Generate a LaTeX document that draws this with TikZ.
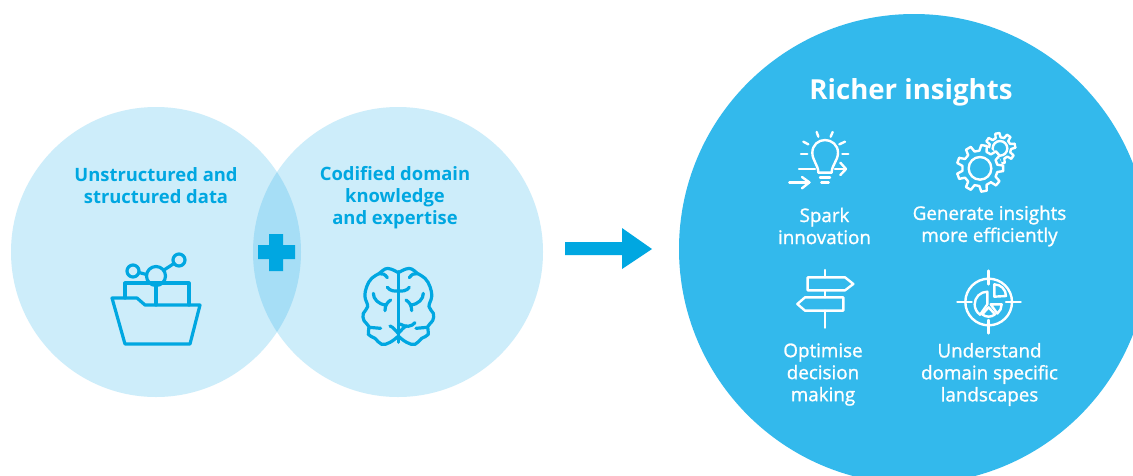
\documentclass[tikz,border=0pt]{standalone}
\usepackage{fontspec}
\setmainfont{Open Sans}
\newfontfamily\medfont[FakeBold=1.2]{Open Sans}
\definecolor{lightc}{HTML}{CDEDFA}
\definecolor{overlapc}{HTML}{A6DEF6}
\definecolor{bigc}{HTML}{33B9EC}
\definecolor{accent}{HTML}{00A7E1}
\tikzset{
  ltext/.style={text=accent,font=\fontsize{18.4}{22}\selectfont\bfseries,align=center,inner sep=0pt},
  rtext/.style={text=white,font=\fontsize{18.8}{22}\selectfont\medfont,align=center,inner sep=0pt},
  licon/.style={draw=accent,line width=3.2pt,line join=round,line cap=round},
  wicon/.style={draw=white,line width=2.4pt,line join=round,line cap=round},
  zoomed/.style={shift={#1},scale=1/3}
}
\newcommand{\gearshape}[6]{% cx cy ro ri n rot
  \foreach \i in {1,...,#5}{
    \pgfmathsetmacro{\aa}{#6+\i*360/#5}
    \pgfmathsetmacro{\dd}{360/#5}
    \draw[wicon] ({#1+#3*cos(\aa-.17*\dd)},{#2-#3*sin(\aa-.17*\dd)})
      -- ({#1+#3*cos(\aa+.17*\dd)},{#2-#3*sin(\aa+.17*\dd)})
      -- ({#1+#4*cos(\aa+.30*\dd)},{#2-#4*sin(\aa+.30*\dd)})
      -- ({#1+#4*cos(\aa+.70*\dd)},{#2-#4*sin(\aa+.70*\dd)})
      -- ({#1+#3*cos(\aa+.83*\dd)},{#2-#3*sin(\aa+.83*\dd)});
  }
}
\begin{document}
\begin{tikzpicture}[x=1pt,y=-1pt]
\useasboundingbox (0,0) rectangle (1133,475);
\fill[white] (0,0) rectangle (1133,475);
% Venn circles
\fill[lightc] (156,252) circle (145);
\fill[lightc] (398,252) circle (145);
\begin{scope}
  \clip (156,252) circle (145);
  \fill[overlapc] (398,252) circle (145);
\end{scope}
% plus
\fill[accent] (258,245) -- (269,245) -- (269,234) -- (283,234) -- (283,245) -- (295,245)
  -- (295,259) -- (283,259) -- (283,271) -- (269,271) -- (269,259) -- (258,259) -- cycle;
% arrow
\fill[accent] (565,242) -- (622,242) -- (622,228) -- (652,249) -- (622,269) -- (622,255) -- (565,255) -- cycle;
% big circle
\begin{scope}
  \clip (0,0) rectangle (1133,475);
  \fill[bigc] (914,249) circle (235);
\end{scope}
% left texts
\node[ltext] (unstructured) at (156,185.5) {Unstructured and\\structured data};
\node[ltext] (codified) at (395,198) {Codified domain\\knowledge\\and expertise};
% right texts
\node[text=white,font=\fontsize{27.6}{32}\selectfont\bfseries,inner sep=0pt] (richer) at (911,92.5) {Richer insights};
\node[rtext] (spark) at (824.5,226) {Spark\\innovation};
\node[rtext] (generate) at (989.5,226) {Generate insights\\more efficiently};
\node[rtext] (optimise) at (823,374.5) {Optimise\\decision\\making};
\node[rtext] (understand) at (989.5,374.5) {Understand\\domain specific\\landscapes};
% folder icon
\begin{scope}[licon]
  \draw (112,298) -- (137,298) -- (145,305) -- (200,305) -- (190,344) -- (125,344) -- cycle;
  \draw (125,298) -- (125,283) -- (189,283) -- (189,305);
  \draw (156,286) -- (156,305);
  \draw (156,276) circle (9.5);
  \draw (133,271) circle (6);
  \draw (179,260) circle (6);
  \draw (139,272.5) -- (146.5,274.5);
  \draw (164,270) -- (174,263.5);
\end{scope}
% brain icon
\begin{scope}[zoomed={(350,255)},licon,line width=3.2pt]
  \draw (145,50) -- (145,262);
  \foreach \sx/\ox in {1/0,-1/290}{
  \begin{scope}[shift={(\ox,0)},xscale=\sx]
    \draw plot[smooth,tension=.7] coordinates {(143,52) (122,42) (105,42) (88,55) (65,70) (50,95) (45,125) (53,155) (40,175) (42,197) (57,215) (55,238) (75,250) (95,268) (120,262) (143,245)};
    \draw (88,56) .. controls (98,54) and (105,58) .. (112,68);
    \draw (112,97) .. controls (120,108) and (135,110) .. (145,107);
    \draw (70,115) .. controls (70,132) and (85,148) .. (108,150);
    \draw (105,167) .. controls (105,150) and (112,142) .. (122,135);
    \draw (58,217) -- (92,220);
    \draw (120,213) .. controls (130,216) and (137,228) .. (145,235);
  \end{scope}}
  \draw (195,203) .. controls (185,215) and (168,218) .. (150,207);
\end{scope}
% bulb icon
\begin{scope}[zoomed={(780,120)},wicon]
  \draw (115,158) .. controls (115,135) and (97,122) .. (97,98)
     .. controls (97,75) and (115,60) .. (135,60)
     .. controls (155,60) and (174,75) .. (174,98)
     .. controls (174,122) and (155,135) .. (155,158) -- cycle;
  \draw (120,172) -- (150,172);
  \draw (124,187) -- (146,187);
  \draw (110,36) -- (115,50);
  \draw (158,36) -- (152,50);
  \draw (70,65) -- (85,73);
  \draw (195,65) -- (178,73);
  \draw (63,102) -- (82,102);
  \draw (187,102) -- (205,102);
  \draw (57,147) -- (105,147);
  \draw (165,147) -- (198,147);
  \draw (181,128) -- (198,147) -- (181,165);
  \draw (28,187) -- (88,187);
  \draw (66,171) -- (88,187) -- (66,205);
\end{scope}
% gears icon
\begin{scope}[zoomed={(945,125)}]
  \gearshape{165}{70}{46}{33}{8}{10}
  \draw[wicon] (165,70) circle (22);
  \fill[bigc] (105,130) circle (66);
  \gearshape{105}{130}{70}{53}{9}{0}
  \draw[wicon] (105,130) circle (34);
\end{scope}
% signpost icon
\begin{scope}[zoomed={(785,265)},wicon]
  \draw (120,15) -- (120,37);
  \draw (120,76) -- (120,97);
  \draw (120,137) -- (120,188);
  \draw (68,37) -- (180,37) -- (205,57) -- (180,76) -- (68,76) -- cycle;
  \draw (175,97) -- (60,97) -- (37,117) -- (60,137) -- (175,137) -- cycle;
\end{scope}
% target icon
\begin{scope}[zoomed={(950,265)},wicon]
  \draw (116,111) circle (70);
  \draw (116,17) -- (116,58);
  \draw (116,165) -- (116,205);
  \draw (22,111) -- (65,111);
  \draw (168,111) -- (212,111);
  \draw (133,95) -- (133,58) arc[start angle=-90,end angle=0,radius=35] -- cycle;
  \draw (112,118) -- (112,80) arc[start angle=-90,end angle=-235,radius=38] -- cycle;
  \draw (122,118) -- (155,118) arc[start angle=0,end angle=50,radius=36] -- cycle;
  \draw (116,127) -- (135,148) arc[start angle=50,end angle=130,radius=30] -- cycle;
\end{scope}
\end{tikzpicture}
\end{document}
